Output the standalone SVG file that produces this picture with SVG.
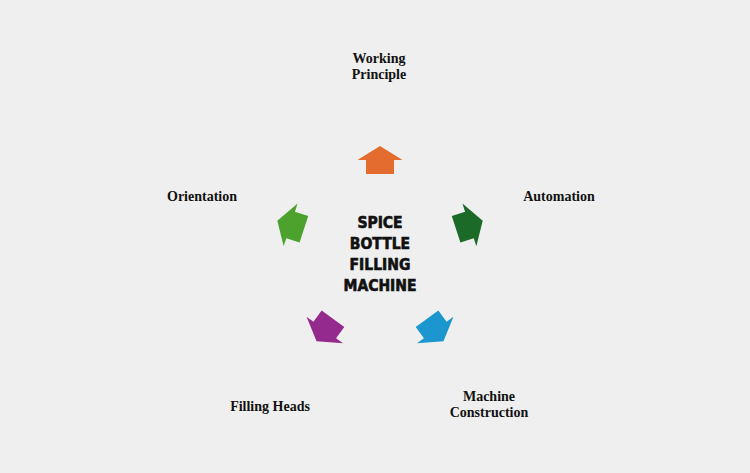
<svg xmlns="http://www.w3.org/2000/svg" width="750" height="473" viewBox="0 0 750 473">
<style>
.lbl{font-family:"Liberation Serif","Times New Roman",serif;font-weight:bold;font-size:14px;fill:#111;text-anchor:middle}
.ctr{font-family:"DejaVu Sans Condensed","DejaVu Sans",sans-serif;font-weight:bold;font-size:15.5px;fill:#111;stroke:#111;stroke-width:0.6;text-anchor:middle}
</style>
<defs>
<path id="arr" d="M0,-14 L22.5,0 L14,0 L14,14 L-14,14 L-14,0 L-22.5,0 Z"/>
</defs>
<rect width="750" height="473" fill="#efefef"/>
<g id="connectors">
<use href="#arr" transform="rotate(0 380 254) translate(380 160)" fill="#e46c2f"/>
<use href="#arr" transform="rotate(72 380 254) translate(380 160)" fill="#1c6a27"/>
<use href="#arr" transform="rotate(144 380 254) translate(380 160)" fill="#1b96cf"/>
<use href="#arr" transform="rotate(216 380 254) translate(380 160)" fill="#952a8e"/>
<use href="#arr" transform="rotate(288 380 254) translate(380 160)" fill="#4da22e"/>
</g>
<g id="center">
<text class="ctr" x="380" y="228">SPICE</text>
<text class="ctr" x="380" y="249">BOTTLE</text>
<text class="ctr" x="380" y="270">FILLING</text>
<text class="ctr" x="380" y="291">MACHINE</text>
</g>
<g id="working-principle">
<text class="lbl" x="379" y="63">Working</text>
<text class="lbl" x="379" y="79">Principle</text>
</g>
<g id="automation">
<text class="lbl" x="559" y="201">Automation</text>
</g>
<g id="machine-construction">
<text class="lbl" x="489" y="401">Machine</text>
<text class="lbl" x="489" y="417">Construction</text>
</g>
<g id="filling-heads">
<text class="lbl" x="270" y="411">Filling Heads</text>
</g>
<g id="orientation">
<text class="lbl" x="202" y="201">Orientation</text>
</g>
</svg>
